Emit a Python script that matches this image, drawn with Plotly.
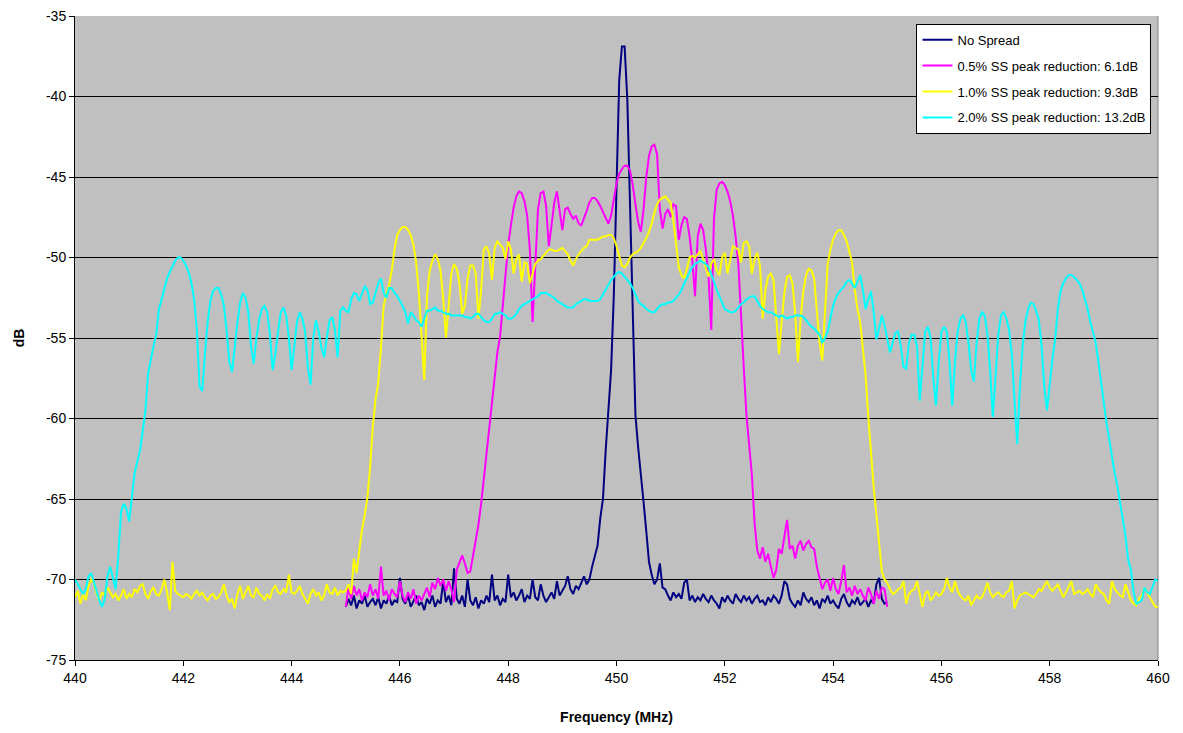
import numpy as np
import plotly.graph_objects as go

# Frequency sampling grids (MHz)
freq_wide = np.round(np.arange(440.0, 460.0001, 0.05), 2)    # 2.0% / 1.0% traces
freq_narrow = np.round(np.arange(445.0, 455.0001, 0.05), 2)  # no spread / 0.5% traces

series_names = ["No Spread",
                "0.5% SS peak reduction: 6.1dB",
                "1.0% SS peak reduction: 9.3dB",
                "2.0% SS peak reduction: 13.2dB"]

x_ticks = [440, 442, 444, 446, 448, 450, 452, 454, 456, 458, 460]
y_ticks = [-75, -70, -65, -60, -55, -50, -45, -40, -35]
y_tick_labels = ["-75", "-70", "-65", "-60", "-55", "-50", "-45", "-40", "-35"]
grid_levels = [-70, -65, -60, -55, -50, -45, -40]

no_spread_db = [
    -71.7,-71.2,-71.6,-71.0,-71.8,-71.3,-71.5,-71.0,-71.7,-71.4,-71.2,-71.6,-71.1,-71.8,-71.3,-71.5,-71.0,-71.6,-71.3,-71.4,
    -69.9,-71.2,-71.5,-71.0,-71.7,-71.3,-71.0,-71.6,-71.4,-71.9,-71.2,-71.5,-71.0,-71.7,-71.3,-71.5,-70.1,-71.4,-71.0,-71.6,
    -69.3,-71.2,-71.5,-71.0,-71.7,-70.0,-71.3,-71.6,-71.1,-71.8,-71.3,-71.5,-71.0,-71.4,-69.7,-71.3,-71.0,-71.6,-71.2,-71.4,
    -69.7,-71.1,-70.8,-71.3,-71.0,-70.6,-71.4,-71.0,-71.2,-70.0,-71.1,-71.3,-70.3,-71.0,-71.4,-71.1,-70.8,-71.2,-70.1,-71.0,
    -70.7,-70.4,-69.8,-70.6,-70.9,-70.4,-70.6,-70.2,-69.8,-70.3,-70.0,-69.2,-68.5,-67.9,-66.2,-65.0,-62.0,-59.8,-57.0,-52.4,
    -45.5,-39.0,-36.9,-36.9,-40.2,-46.5,-53.8,-59.8,-61.8,-63.3,-65.2,-67.0,-68.9,-69.7,-70.3,-70.0,-69.0,-70.5,-70.6,-71.0,
    -71.3,-70.8,-71.1,-70.9,-71.2,-70.2,-70.0,-71.3,-71.0,-71.4,-71.1,-71.3,-70.9,-71.2,-71.4,-71.0,-71.3,-71.5,-71.8,-71.1,
    -71.4,-71.0,-71.3,-71.5,-70.9,-71.2,-71.4,-71.0,-71.3,-71.1,-71.5,-71.2,-71.0,-71.4,-71.3,-71.6,-71.1,-71.4,-71.0,-71.2,
    -71.5,-71.0,-70.1,-70.3,-71.2,-71.5,-71.7,-71.3,-71.6,-70.8,-71.2,-71.4,-71.1,-71.6,-71.3,-71.8,-71.2,-71.4,-71.0,-71.5,
    -71.3,-71.6,-71.8,-71.2,-70.9,-71.4,-71.7,-71.3,-71.5,-71.1,-71.6,-71.4,-71.2,-71.7,-71.3,-71.5,-70.3,-69.9,-71.2,-71.5,
    -71.4]

ss05_db = [
    -71.7,-70.5,-71.2,-70.4,-71.0,-70.6,-71.3,-70.8,-71.1,-70.3,-71.0,-70.6,-71.2,-69.2,-71.0,-70.7,-71.3,-70.6,-70.9,-71.1,
    -70.1,-71.0,-71.4,-70.8,-71.2,-70.6,-71.5,-71.0,-71.3,-70.9,-70.5,-71.1,-70.2,-70.6,-69.9,-70.4,-70.0,-70.7,-70.1,-70.6,
    -71.4,-69.4,-69.0,-68.5,-69.0,-69.6,-69.5,-68.6,-67.6,-66.6,-65.3,-63.7,-62.0,-60.3,-58.8,-57.4,-55.9,-54.9,-53.1,-51.0,
    -49.2,-48.0,-46.9,-46.2,-45.9,-46.0,-46.5,-47.4,-49.5,-54.0,-50.0,-47.0,-46.0,-45.9,-46.8,-49.3,-48.0,-46.6,-45.9,-47.0,
    -48.3,-47.0,-46.9,-47.3,-47.6,-47.4,-47.9,-48.0,-47.6,-47.1,-46.6,-46.3,-46.3,-46.5,-46.8,-47.2,-47.5,-47.9,-47.4,-46.5,
    -45.4,-44.8,-44.5,-44.3,-44.3,-44.6,-45.5,-46.7,-47.8,-48.4,-47.0,-45.0,-43.7,-43.1,-43.0,-43.6,-47.0,-48.2,-47.3,-47.0,
    -47.5,-46.7,-46.8,-48.9,-48.0,-47.5,-47.6,-48.7,-50.2,-52.4,-48.7,-47.9,-48.3,-49.5,-51.2,-54.5,-47.6,-45.8,-45.4,-45.3,
    -45.5,-45.9,-46.5,-47.4,-48.7,-50.4,-54.0,-56.8,-59.8,-61.5,-63.5,-66.5,-68.2,-68.7,-68.0,-68.9,-68.4,-69.2,-69.9,-69.4,
    -68.1,-68.4,-67.4,-66.3,-68.1,-67.9,-68.7,-67.9,-67.6,-68.2,-67.8,-67.6,-68.0,-68.1,-69.2,-70.0,-70.6,-70.2,-70.0,-70.7,
    -69.9,-70.6,-70.9,-70.1,-69.1,-70.8,-70.5,-71.0,-70.4,-70.9,-70.6,-71.0,-71.3,-70.5,-70.9,-71.5,-70.7,-71.2,-70.5,-70.6,
    -71.7]

ss10_db = [
    -71.1,-70.7,-71.5,-70.9,-71.3,-70.4,-70.0,-70.2,-70.9,-71.3,-70.8,-71.0,-70.5,-70.8,-71.1,-70.9,-71.3,-71.0,-70.6,-71.2,
    -70.9,-71.1,-70.6,-70.8,-70.4,-70.3,-70.9,-71.2,-70.7,-70.5,-70.9,-71.0,-70.6,-70.0,-70.8,-71.9,-68.9,-70.7,-70.9,-71.0,
    -71.1,-70.9,-71.0,-71.2,-70.9,-70.7,-71.0,-70.8,-71.1,-71.3,-71.0,-70.9,-71.2,-71.1,-70.8,-70.3,-71.0,-71.4,-71.2,-71.8,
    -70.9,-70.4,-71.2,-70.8,-70.4,-71.0,-71.1,-70.5,-70.9,-71.0,-71.3,-70.9,-71.2,-70.6,-70.4,-70.8,-70.9,-70.6,-70.8,-69.7,
    -70.8,-70.9,-70.7,-70.4,-70.9,-71.2,-71.5,-70.9,-70.6,-71.0,-70.8,-71.3,-71.0,-70.3,-70.8,-70.9,-70.5,-71.0,-70.7,-70.8,
    -70.7,-70.3,-70.9,-68.7,-69.6,-68.2,-66.9,-66.0,-64.9,-63.0,-60.5,-58.8,-57.8,-55.6,-53.0,-52.3,-51.7,-50.8,-49.5,-48.6,
    -48.3,-48.1,-48.1,-48.3,-48.6,-49.2,-50.3,-52.2,-55.3,-57.6,-52.4,-50.8,-50.2,-49.8,-50.1,-50.8,-52.6,-55.0,-53.0,-51.0,
    -50.4,-50.7,-51.6,-53.5,-53.0,-51.3,-50.5,-50.5,-51.0,-53.8,-52.0,-49.5,-49.3,-49.8,-51.4,-49.4,-49.0,-49.2,-49.4,-50.1,
    -49.0,-49.5,-51.0,-50.1,-49.8,-51.5,-50.3,-50.4,-51.6,-51.0,-50.4,-50.2,-50.1,-49.9,-49.7,-49.5,-49.5,-49.6,-49.6,-49.5,
    -49.4,-49.6,-49.8,-50.2,-50.5,-50.1,-49.8,-49.6,-49.4,-49.3,-48.9,-48.9,-48.9,-48.9,-48.8,-48.7,-48.7,-48.6,-48.6,-48.8,
    -49.3,-49.9,-50.5,-50.6,-50.4,-50.0,-49.8,-49.7,-49.6,-49.4,-49.1,-48.8,-48.4,-47.9,-47.2,-46.7,-46.4,-46.3,-46.2,-46.4,
    -46.6,-47.7,-49.3,-50.6,-51.1,-51.3,-50.7,-50.0,-49.9,-50.0,-49.8,-49.6,-50.1,-50.6,-51.2,-50.4,-50.1,-50.8,-51.1,-50.0,
    -49.7,-51.0,-50.2,-49.3,-49.4,-49.5,-50.3,-49.1,-49.0,-49.3,-51.0,-50.1,-49.7,-50.5,-53.8,-52.0,-51.2,-51.0,-51.4,-53.5,
    -56.0,-54.0,-52.2,-51.2,-51.1,-51.6,-53.5,-56.5,-53.8,-52.1,-51.1,-50.7,-50.8,-51.3,-53.2,-55.3,-56.4,-53.2,-50.4,-49.5,
    -48.9,-48.5,-48.3,-48.3,-48.6,-49.0,-49.6,-50.3,-52.0,-53.2,-54.0,-55.5,-57.3,-59.9,-62.2,-64.3,-66.0,-68.0,-69.5,-70.0,
    -70.2,-70.6,-70.9,-70.8,-70.6,-70.5,-70.1,-71.5,-70.9,-70.7,-70.6,-70.1,-71.0,-71.7,-70.9,-70.7,-71.3,-71.1,-70.8,-71.0,
    -70.9,-70.6,-69.9,-70.5,-70.8,-70.1,-70.7,-71.0,-71.2,-71.3,-71.0,-71.6,-71.3,-71.0,-71.2,-71.1,-70.7,-70.2,-70.8,-71.1,
    -70.9,-70.8,-71.0,-71.1,-70.8,-70.7,-70.1,-71.8,-71.3,-71.0,-70.9,-70.8,-70.9,-71.0,-71.1,-70.9,-70.6,-70.7,-70.4,-70.1,
    -70.5,-70.7,-70.5,-70.3,-70.7,-71.1,-70.8,-70.4,-70.1,-70.9,-70.8,-70.7,-70.9,-70.8,-70.6,-70.9,-71.1,-70.3,-70.6,-70.8,
    -70.9,-71.3,-71.5,-70.1,-70.6,-70.8,-71.0,-71.1,-70.3,-70.8,-71.3,-71.5,-71.6,-71.2,-71.0,-70.5,-70.8,-71.1,-71.4,-71.7,
    -71.7]

ss20_db = [
    -70.0,-70.3,-70.6,-70.9,-70.6,-69.8,-69.6,-70.2,-70.8,-71.3,-71.7,-71.2,-69.8,-69.2,-69.9,-70.6,-68.5,-65.8,-65.3,-65.6,
    -66.4,-65.0,-63.4,-62.7,-62.0,-60.8,-59.5,-57.2,-56.3,-55.5,-54.8,-53.2,-52.6,-51.9,-51.3,-50.9,-50.5,-50.2,-50.0,-50.0,
    -50.2,-50.5,-50.9,-51.6,-52.6,-54.5,-58.0,-58.3,-56.0,-54.0,-52.7,-52.1,-51.9,-51.9,-52.3,-53.0,-54.5,-56.5,-57.1,-55.4,
    -54.0,-52.8,-52.2,-52.5,-53.4,-55.5,-56.6,-55.0,-53.9,-53.2,-53.0,-53.4,-54.8,-57.0,-56.0,-54.6,-53.4,-53.1,-53.6,-55.0,
    -57.0,-55.5,-54.0,-53.4,-53.8,-54.6,-56.8,-57.9,-55.0,-53.9,-54.6,-55.6,-56.2,-55.0,-53.9,-53.7,-54.5,-56.2,-53.3,-53.1,
    -53.3,-53.4,-52.6,-52.2,-52.3,-52.7,-52.2,-51.8,-52.0,-52.9,-52.8,-52.2,-51.6,-51.3,-52.2,-52.5,-51.9,-51.9,-52.2,-52.4,
    -52.7,-53.0,-53.4,-54.1,-53.4,-53.6,-53.9,-54.0,-54.3,-53.8,-53.3,-53.3,-53.2,-53.1,-53.3,-53.3,-53.4,-53.5,-53.5,-53.6,
    -53.6,-53.6,-53.6,-53.6,-53.7,-53.7,-53.8,-53.7,-53.5,-53.5,-53.7,-53.9,-54.0,-54.0,-53.8,-53.5,-53.5,-53.4,-53.5,-53.6,
    -53.8,-53.8,-53.7,-53.5,-53.2,-53.0,-52.9,-52.8,-52.7,-52.6,-52.5,-52.4,-52.2,-52.2,-52.2,-52.3,-52.4,-52.5,-52.7,-52.8,
    -52.9,-53.0,-53.1,-53.1,-53.1,-52.9,-52.8,-52.7,-52.6,-52.6,-52.7,-52.7,-52.7,-52.7,-52.6,-52.3,-52.0,-51.7,-51.4,-51.2,
    -51.0,-50.9,-51.0,-51.2,-51.4,-51.6,-51.9,-52.3,-52.7,-52.9,-53.0,-53.2,-53.3,-53.4,-53.4,-53.2,-53.0,-52.9,-52.9,-52.8,
    -52.8,-52.7,-52.5,-52.3,-52.0,-51.6,-51.2,-50.9,-50.6,-50.4,-50.3,-50.2,-50.3,-50.4,-50.6,-51.0,-51.5,-52.0,-52.4,-52.8,
    -53.2,-53.3,-53.4,-53.4,-53.3,-53.1,-52.9,-52.8,-52.6,-52.5,-52.4,-52.4,-52.7,-53.0,-53.2,-53.3,-53.4,-53.4,-53.5,-53.6,
    -53.7,-53.6,-53.7,-53.8,-53.7,-53.7,-53.6,-53.6,-53.6,-53.7,-53.9,-54.1,-54.3,-54.4,-54.6,-54.8,-55.3,-55.0,-54.6,-53.8,
    -53.0,-52.5,-52.2,-52.0,-51.8,-51.5,-51.4,-51.6,-51.9,-51.5,-51.1,-52.0,-53.2,-52.6,-52.1,-53.4,-55.1,-54.4,-53.6,-54.2,
    -55.0,-55.9,-55.3,-54.7,-54.6,-55.5,-56.8,-56.9,-55.3,-54.8,-54.8,-55.5,-58.9,-56.5,-54.6,-54.3,-55.0,-57.5,-59.2,-56.5,
    -54.6,-54.3,-54.6,-56.5,-59.2,-56.5,-54.6,-53.8,-53.6,-54.0,-55.3,-57.0,-57.7,-55.3,-53.8,-53.4,-53.6,-54.8,-57.0,-59.9,
    -57.0,-54.8,-53.6,-53.4,-53.8,-54.5,-56.0,-58.5,-61.6,-58.0,-55.5,-54.0,-53.2,-52.8,-52.9,-53.3,-53.9,-55.5,-58.0,-59.5,
    -57.8,-56.3,-55.1,-53.2,-52.1,-51.6,-51.3,-51.1,-51.1,-51.2,-51.4,-51.6,-52.0,-52.6,-53.2,-54.0,-54.6,-55.3,-56.5,-57.8,
    -59.0,-60.3,-61.3,-62.4,-63.4,-64.2,-65.2,-66.2,-67.3,-68.8,-69.4,-70.8,-71.5,-71.4,-71.3,-70.5,-70.8,-70.9,-70.4,-70.0,
    -70.1]

colors = ["#000080", "#FF00FF", "#FFFF00", "#00FFFF"]

fig = go.Figure()
for name, xs, ys, col in zip(series_names,
                             [freq_narrow, freq_narrow, freq_wide, freq_wide],
                             [no_spread_db, ss05_db, ss10_db, ss20_db],
                             colors):
    fig.add_trace(go.Scatter(x=xs, y=ys, mode="lines", name=name,
                             legendgroup=name,
                             line=dict(color=col, width=2)))

font_family = "Liberation Sans, Arial, sans-serif"

fig.update_layout(
    width=1167, height=717,
    margin=dict(l=67, r=17, t=8, b=65, autoexpand=False),
    paper_bgcolor="white",
    plot_bgcolor="#C0C0C0",
    font=dict(family=font_family, size=14, color="black"),
    showlegend=True,
    legend=dict(
        x=0.777, y=0.988, xanchor="left", yanchor="top",
        bgcolor="white", bordercolor="black", borderwidth=1,
        font=dict(family=font_family, size=13, color="black"),
        tracegroupgap=6,
        itemwidth=30,
    ),
    xaxis=dict(
        range=[440, 460], tickvals=x_ticks,
        automargin=False,
        showgrid=False, zeroline=False,
        showline=True, linecolor="black", linewidth=1,
        ticks="outside", ticklen=5, tickcolor="black",
        tickfont=dict(size=14),
        title=dict(text="<b>Frequency (MHz)</b>", font=dict(size=14), standoff=28),
    ),
    yaxis=dict(
        range=[-75, -35], tickvals=y_ticks, ticktext=y_tick_labels,
        automargin=False,
        showgrid=False, zeroline=False,
        showline=True, linecolor="black", linewidth=1,
        ticks="outside", ticklen=5, tickcolor="black",
        tickfont=dict(size=14),
        ticklabeloverflow="allow",
        title=dict(text="<b>dB</b>", font=dict(size=14), standoff=18),
    ),
    yaxis2=dict(
        range=[-75, -35], overlaying="y", side="left",
        tickvals=grid_levels, automargin=False,
        showticklabels=False, ticks="",
        showgrid=True, gridcolor="black", gridwidth=1,
        zeroline=False, showline=False,
    ),
    xaxis2=dict(range=[440, 460], overlaying="x", visible=False, automargin=False),
)

# Grey frame edge on the right side of the plot area
fig.add_shape(type="line", xref="x domain", yref="y domain",
              x0=1, x1=1, y0=0, y1=1, layer="below",
              line=dict(color="#808080", width=1))

# Invisible helper trace so that the gridline axis is rendered
fig.add_trace(go.Scatter(x=[440], y=[-75], xaxis="x2", yaxis="y2",
                         mode="markers", marker=dict(opacity=0),
                         showlegend=False, hoverinfo="skip"))

fig.write_html("out.html")
